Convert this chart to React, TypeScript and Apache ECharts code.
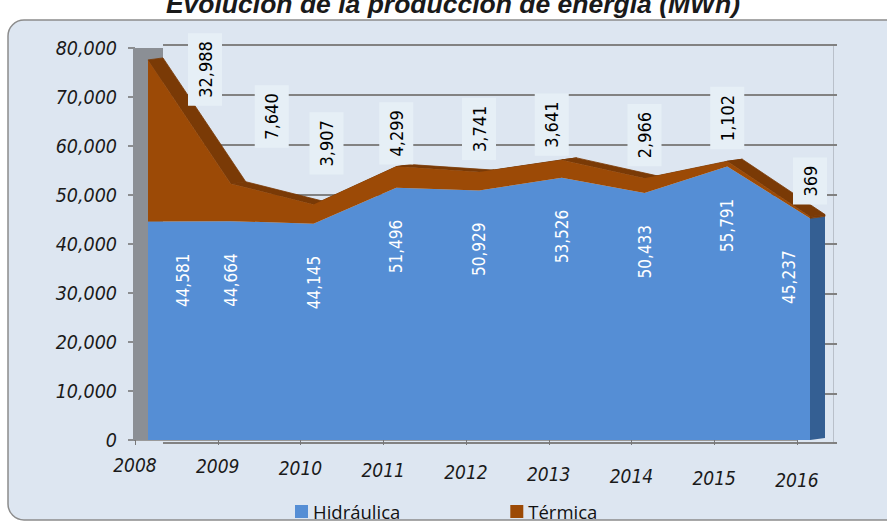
import React, { useEffect, useRef } from "react";
import * as echarts from "echarts";

const years = ["2008", "2009", "2010", "2011", "2012", "2013", "2014", "2015", "2016"];
const hidraulica = [44581, 44664, 44145, 51496, 50929, 53526, 50433, 55791, 45237];
const termica = [32988, 7640, 3907, 4299, 3741, 3641, 2966, 1102, 369];
const yMin = 0;
const yMax = 80000;
const yStep = 10000;

const NARROW = "'Liberation Sans Narrow', 'DejaVu Sans Condensed', 'Liberation Sans', sans-serif";
const BLUE = "#558ed5";
const BLUE_SIDE = "#345f93";
const BROWN = "#9c4a06";
const BROWN_TOP = "#7a3a06";
const DX = 15;
const DY = -2;

const fmt = (v: number) => v.toLocaleString("en-US");

export default function App() {
  const ref = useRef<HTMLDivElement>(null);
  useEffect(() => {
    if (!ref.current) return;
    const chart = echarts.init(ref.current, undefined, { renderer: "svg" });
    const totals = hidraulica.map((h, i) => h + termica[i]);
    const last = years.length - 1;

    const rich: Record<string, any> = {};
    years.forEach((_, i) => {
      rich["s" + i] = {
        fontFamily: NARROW,
        fontStyle: "italic",
        fontSize: 19,
        color: "#1a1a1a",
        padding: [i * 1.9, 0, 0, 0],
      };
    });

    const hidLabelOffset = (i: number) => (i === 0 ? [0, 35] : i === last ? [0, -21] : [0, 0]);
    const terLabelOffset = (i: number) =>
      i === 0 ? [-58, 57] : i === 1 ? [24, 41] : i === 2 ? [18, 13] : i === 3 ? [-10, 0] : i === 5 ? [-8, -10] : [0, 0];

    const option: any = {
      animation: false,
      backgroundColor: "#ffffff",
      graphic: {
        elements: [
          {
            type: "rect",
            z: -10,
            shape: { x: 8, y: 20, width: 900, height: 500, r: 16 },
            style: { fill: "#dde6f1", stroke: "#8c8c8c", lineWidth: 1.5 },
          },
          {
            type: "text",
            z: 10,
            style: {
              x: 453,
              y: 17,
              text: "Evolución de la producción de energía (MWh)",
              align: "center",
              verticalAlign: "bottom",
              fontFamily: "'Liberation Sans', Arial, sans-serif",
              fontStyle: "italic",
              fontWeight: "bold",
              fontSize: 26.5,
              fill: "#1a1a1a",
            },
          },
          {
            type: "rect",
            z: 1,
            shape: { x: 133, y: 48, width: 30, height: 392 },
            style: { fill: "#8b8f95" },
          },
        ],
      },
      legend: {
        data: ["Hidráulica", "Térmica"],
        left: 290,
        top: 497,
        icon: "rect",
        itemWidth: 13,
        itemHeight: 13,
        itemGap: 110,
        textStyle: { fontFamily: "'Open Sans', sans-serif", fontSize: 18.5, color: "#111" },
      },
      grid: [
        { left: 135, right: 90, top: 48, bottom: 83 },
        { left: 163, right: 54, top: 45, bottom: 80 },
        { left: 148, right: 77, top: 48, bottom: 83 },
      ],
      xAxis: [
        {
          gridIndex: 0,
          type: "category",
          data: years,
          boundaryGap: false,
          axisLine: { lineStyle: { color: "#9a9a9a", width: 2 } },
          axisTick: { show: true, length: 5, lineStyle: { color: "#777" } },
          axisLabel: {
            margin: 15,
            formatter: (v: string, i: number) => `{s${i}|${v}}`,
            rich,
          },
        },
        { gridIndex: 1, type: "category", data: years, boundaryGap: false, show: false },
        { gridIndex: 2, type: "category", data: years, boundaryGap: false, show: false },
      ],
      yAxis: [
        {
          gridIndex: 0,
          type: "value",
          min: yMin,
          max: yMax,
          interval: yStep,
          axisLine: { show: false },
          axisTick: { show: true, length: 7, lineStyle: { color: "#6f6f6f", width: 1.5 } },
          splitLine: { show: false },
          axisLabel: {
            margin: 18,
            fontFamily: NARROW,
            fontStyle: "italic",
            fontSize: 19.5,
            color: "#1a1a1a",
            formatter: (v: number) => fmt(v),
          },
        },
        {
          gridIndex: 1,
          type: "value",
          position: "right",
          min: yMin,
          max: yMax,
          interval: yStep,
          axisLine: { show: true, lineStyle: { color: "#b9c0ca", width: 1 } },
          axisTick: { show: true, length: 4, lineStyle: { color: "#808080", width: 2 } },
          axisLabel: { show: false },
          splitLine: { show: true, lineStyle: { color: "#828282", width: 2 } },
        },
        { gridIndex: 2, type: "value", min: yMin, max: yMax, interval: yStep, show: false },
      ],
      series: [
        {
          type: "custom",
          xAxisIndex: 2,
          yAxisIndex: 2,
          z: 2,
          silent: true,
          data: totals.map((t, i) => [i, t]),
          encode: { x: 0, y: 1 },
          renderItem: (params: any, api: any) => {
            const i = params.dataIndex;
            const off = (p: number[]) => [p[0] + DX, p[1] + DY];
            const children: any[] = [];
            if (i < last) {
              const p0 = api.coord([i, totals[i]]);
              const p1 = api.coord([i + 1, totals[i + 1]]);
              children.push({
                type: "polygon",
                shape: { points: [p0, p1, off(p1), off(p0)] },
                style: { fill: BROWN_TOP, stroke: BROWN_TOP, lineWidth: 0.8 },
              });
            } else {
              const b0 = api.coord([i, 0]);
              const b1 = api.coord([i, hidraulica[i]]);
              const t = api.coord([i, totals[i]]);
              children.push({
                type: "polygon",
                shape: { points: [b0, b1, off(b1), off(b0)] },
                style: { fill: BLUE_SIDE },
              });
              children.push({
                type: "polygon",
                shape: { points: [b1, t, off(t), off(b1)] },
                style: { fill: BROWN_TOP, stroke: BROWN_TOP, lineWidth: 0.8 },
              });
            }
            return { type: "group", children };
          },
        },
        {
          name: "Hidráulica",
          type: "line",
          stack: "total",
          xAxisIndex: 2,
          yAxisIndex: 2,
          z: 3,
          symbol: "circle",
          symbolSize: 0.1,
          lineStyle: { width: 0 },
          itemStyle: { color: BLUE },
          areaStyle: { color: BLUE, opacity: 1 },
          data: hidraulica.map((v, i) => ({ value: v, label: { offset: hidLabelOffset(i) } })),
          label: {
            show: true,
            position: "bottom",
            distance: 32,
            rotate: 90,
            align: "right",
            verticalAlign: "middle",
            color: "#ffffff",
            fontFamily: NARROW,
            fontSize: 17,
            formatter: (p: any) => fmt(p.value),
          },
        },
        {
          name: "Térmica",
          type: "line",
          stack: "total",
          xAxisIndex: 2,
          yAxisIndex: 2,
          z: 3,
          symbol: "circle",
          symbolSize: 0.1,
          lineStyle: { width: 0 },
          itemStyle: { color: BROWN },
          areaStyle: { color: BROWN, opacity: 1 },
          data: termica.map((v, i) => ({ value: v, label: { offset: terLabelOffset(i) } })),
          label: {
            show: true,
            position: "top",
            distance: 12,
            rotate: 90,
            align: "left",
            verticalAlign: "middle",
            color: "#000000",
            backgroundColor: "#e6eff6",
            padding: [6, 8, 6, 8],
            lineHeight: 22,
            fontFamily: NARROW,
            fontSize: 18,
            formatter: (p: any) => fmt(p.value),
          },
        },
      ],
    };
    chart.setOption(option);
    return () => chart.dispose();
  }, []);
  return (
    <div
      ref={ref}
      style={{ position: "fixed", left: 0, top: 0, width: 887, height: 523 }}
    />
  );
}
